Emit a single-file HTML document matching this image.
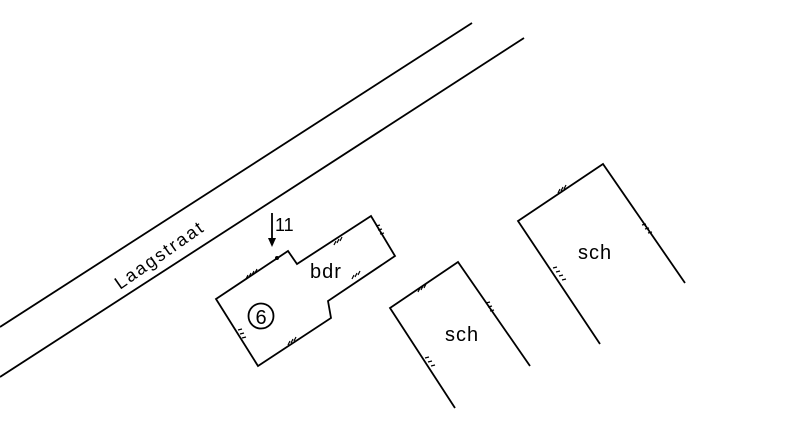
<!DOCTYPE html>
<html><head><meta charset="utf-8"><style>html,body{margin:0;padding:0;background:#fff;width:800px;height:428px;overflow:hidden}</style></head>
<body>
<svg width="800" height="428" viewBox="0 0 800 428" xmlns="http://www.w3.org/2000/svg" font-family="'Liberation Sans', sans-serif">
<g stroke="#000" stroke-width="1.8" fill="none" stroke-linejoin="miter">
<line x1="0" y1="327" x2="472" y2="23"/>
<line x1="0" y1="377" x2="524" y2="38"/>
<polygon points="216,299 288,251 297,264 371,216 395,256 328,301 331,318 258,366"/>
<polyline points="455,408 390,308 458,262 530,366"/>
<polyline points="600,344 518,221 603,164 685,283"/>
<line x1="272" y1="213" x2="272" y2="240"/>
<circle cx="261" cy="316" r="12.5"/>
</g>
<polygon points="268,238 276,238 272,247" fill="#000"/>
<circle cx="277" cy="258" r="2" fill="#000"/>
<text x="275" y="231" font-size="18">11</text>
<text x="261" y="324" font-size="20" text-anchor="middle">6</text>
<text x="310" y="278" font-size="20" letter-spacing="1">bdr</text>
<text x="445" y="341" font-size="20" letter-spacing="1">sch</text>
<text x="578" y="259" font-size="20" letter-spacing="1">sch</text>
<text x="0" y="0" font-size="18" letter-spacing="2" transform="translate(120,290) rotate(-35)">Laagstraat</text>
<g stroke="#000" stroke-width="1.2">
<path d="M246,279 l2,-4 M249,277 l2,-4 M252,275 l2,-4 M255,273 l2,-4"/>
<path d="M334,245 l2,-4 M337,243 l2,-4 M340,241 l2,-4"/>
<path d="M376,226 l4,-1 M378,230 l4,-1 M380,234 l4,-1"/>
<path d="M352,279 l2,-4 M355,277 l2,-4 M358,275 l2,-4"/>
<path d="M288,345 l2,-4 M291,343 l2,-4 M294,341 l2,-4"/>
<path d="M238,330 l4,-1 M240,334 l4,-1 M242,338 l4,-1"/>
<path d="M418,292 l2,-4 M421,290 l2,-4 M424,288 l2,-4"/>
<path d="M486,303 l4,-1 M488,307 l4,-1 M490,311 l4,-1"/>
<path d="M425,358 l4,-1 M428,362 l4,-1 M431,366 l4,-1"/>
<path d="M558,193 l2,-4 M561,191 l2,-4 M564,189 l2,-4"/>
<path d="M642,225 l4,-1 M645,229 l4,-1 M648,233 l4,-1"/>
<path d="M553,268 l4,-1 M556,272 l4,-1 M559,276 l4,-1 M562,280 l4,-1"/>
</g>
</svg>
</body></html>
